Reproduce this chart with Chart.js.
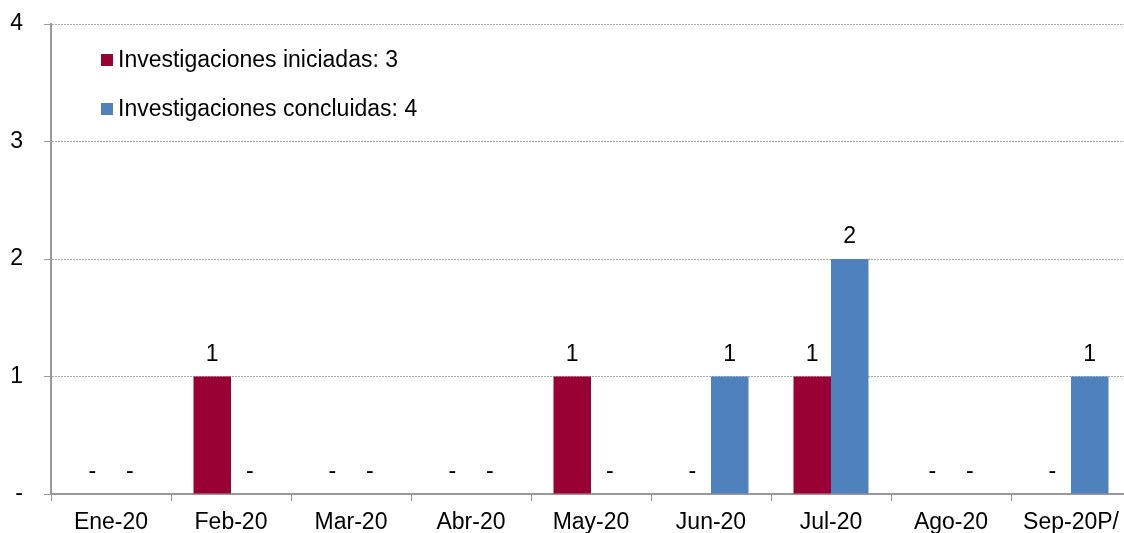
<!DOCTYPE html>
<html>
<head>
<meta charset="utf-8">
<script src="https://cdn.jsdelivr.net/npm/chart.js@4"></script>
<style>
  html, body { margin: 0; padding: 0; overflow: hidden; background: #fff; }
  #wrap { width: 1140px; height: 533px; }
</style>
</head>
<body>
<div id="wrap"><canvas id="chart"></canvas></div>
<script>
// datos
const meses = ['Ene-20', 'Feb-20', 'Mar-20', 'Abr-20', 'May-20', 'Jun-20', 'Jul-20', 'Ago-20', 'Sep-20P/'];
const iniciadas = [0, 1, 0, 0, 1, 0, 1, 0, 0];
const concluidas = [0, 0, 0, 0, 0, 1, 2, 0, 1];
const yTicks = [0, 1, 2, 3, 4];

const FONT = '"Liberation Sans", Arial, sans-serif';
const suma = arr => arr.reduce((a, b) => a + b, 0);

// etiquetas encima de las barras ("-" para ceros)
const etiquetas = {
  id: 'etiquetas',
  afterDatasetsDraw(chart) {
    const ctx = chart.ctx;
    ctx.save();
    ctx.font = '23px ' + FONT;
    ctx.fillStyle = '#000';
    ctx.textAlign = 'center';
    ctx.textBaseline = 'middle';
    chart.data.datasets.forEach((ds, i) => {
      chart.getDatasetMeta(i).data.forEach((bar, j) => {
        const v = ds.data[j];
        ctx.fillText(v === 0 ? '-' : String(v), bar.x, bar.y - 22);
      });
    });
    ctx.restore();
  }
};

// leyenda dentro del área del gráfico
const leyenda = {
  id: 'leyenda',
  afterDraw(chart) {
    const ctx = chart.ctx;
    ctx.save();
    ctx.font = '23px ' + FONT;
    ctx.textBaseline = 'middle';
    const filas = [60, 109];
    chart.data.datasets.forEach((ds, i) => {
      const y = filas[i];
      ctx.fillStyle = ds.backgroundColor;
      ctx.fillRect(101, y - 6, 12, 12);
      ctx.fillStyle = '#000';
      ctx.fillText(ds.label + ': ' + suma(ds.data), 118, y + 1);
    });
    ctx.restore();
  }
};

new Chart(document.getElementById('chart'), {
  type: 'bar',
  data: {
    labels: meses,
    datasets: [
      { label: 'Investigaciones iniciadas', data: iniciadas, backgroundColor: '#990033',
        categoryPercentage: 0.625, barPercentage: 1.0 },
      { label: 'Investigaciones concluidas', data: concluidas, backgroundColor: '#4F81BD',
        categoryPercentage: 0.625, barPercentage: 1.0 }
    ]
  },
  options: {
    responsive: true,
    maintainAspectRatio: false,
    animation: false,
    layout: { padding: { top: 24, right: 9, left: 0, bottom: 0 } },
    plugins: {
      legend: { display: false },
      tooltip: { enabled: false }
    },
    scales: {
      x: {
        grid: { drawOnChartArea: false, color: '#999', tickLength: 7 },
        border: { color: '#999', width: 2 },
        ticks: { color: '#000', font: { family: FONT, size: 23 }, padding: 8, maxRotation: 0, autoSkip: false },
        afterFit: s => { s.height = 39; }
      },
      y: {
        min: 0,
        max: 4,
        afterBuildTicks: s => { s.ticks = yTicks.map(v => ({ value: v })); },
        grid: {
          color: ctx => ctx.tick && ctx.tick.value === 0 ? 'rgba(0,0,0,0)' : '#aaa',
          tickColor: '#999',
          tickLength: 7,
          tickBorderDash: []
        },
        border: { color: '#999', width: 2, dash: [2, 1] },
        ticks: {
          color: '#000',
          font: { family: FONT, size: 23 },
          padding: 21,
          callback: v => v === 0 ? '-' : v
        },
        afterFit: s => { s.width = 51; s.paddingTop = 0; s.paddingBottom = 0; }
      }
    }
  },
  plugins: [etiquetas, leyenda]
});
</script>
</body>
</html>
